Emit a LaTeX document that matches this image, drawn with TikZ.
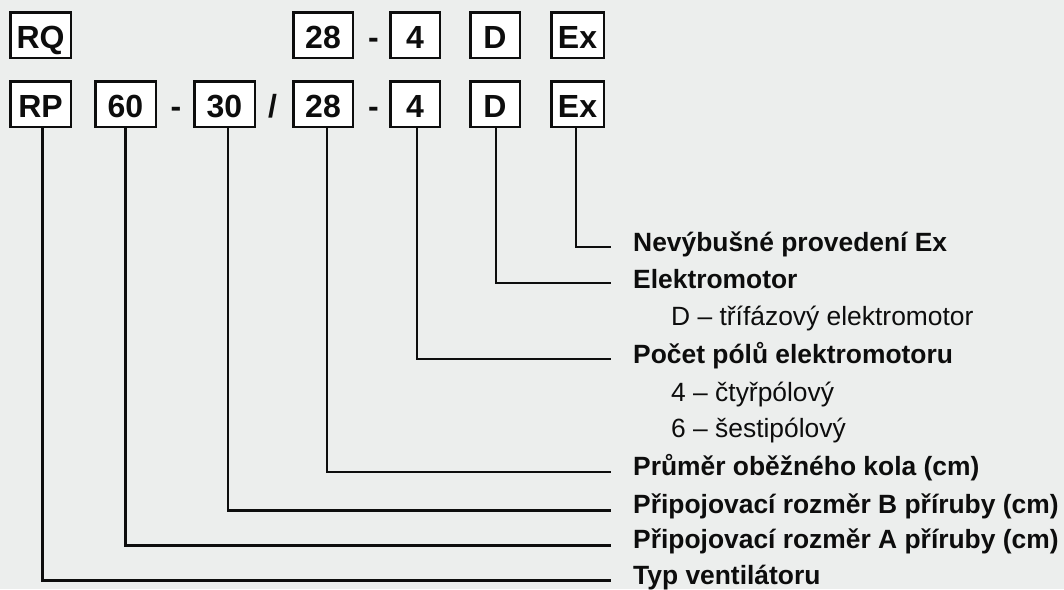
\documentclass[tikz,border=0pt]{standalone}
\usepackage{fontspec}
\setmainfont{Liberation Sans}
\definecolor{bg}{HTML}{ECEEED}
\definecolor{ink}{HTML}{0D0D0D}
\begin{document}
\begin{tikzpicture}[x=1pt,y=-1pt,
  codebox/.style={draw=ink,fill=white,line width=2.5pt,inner sep=0pt,
    minimum height=45.5pt,text height=26pt,text depth=0pt,
    font=\fontsize{32}{36}\selectfont\bfseries,text=ink},
  sep/.style={inner sep=0pt,text height=26pt,text depth=0pt,
    font=\fontsize{32}{36}\selectfont\bfseries,text=ink},
  head/.style={anchor=base west,inner sep=0pt,font=\fontsize{26.4}{30}\selectfont\bfseries,text=ink},
  sub/.style={anchor=base west,inner sep=0pt,font=\fontsize{26.4}{30}\selectfont,text=ink},
  conn/.style={draw=ink,line width=2.7pt,line join=miter}]
\fill[bg] (0,0) rectangle (1064,589);
\useasboundingbox (0,0) rectangle (1064,589);
% row 1
\node[codebox,minimum width=60.5pt] (RQ) at (40.5,35) {RQ};
\node[codebox,minimum width=59.5pt] (a28) at (323,35) {28};
\node[sep] (ad2) at (373.5,35) {-};
\node[codebox,minimum width=49.5pt] (a4) at (415,35) {4};
\node[codebox,minimum width=49.5pt] (aD) at (495,35) {D};
\node[codebox,minimum width=52.5pt] (aEx) at (577.5,35) {Ex};
% row 2
\node[codebox,minimum width=60.5pt] (RP) at (40.5,104) {RP};
\node[codebox,minimum width=60.5pt] (b60) at (125.5,104) {60};
\node[sep] (bd1) at (176,104) {-};
\node[codebox,minimum width=60.5pt] (b30) at (224.5,104) {30};
\node[sep] (bsl) at (272.5,104) {/};
\node[codebox,minimum width=59.5pt] (b28) at (323,104) {28};
\node[sep] (bd2) at (373.5,104) {-};
\node[codebox,minimum width=49.5pt] (b4) at (415,104) {4};
\node[codebox,minimum width=49.5pt] (bD) at (495,104) {D};
\node[codebox,minimum width=52.5pt] (bEx) at (577.5,104) {Ex};
% labels
\node[head] (lEx) at (633,251) {Nevýbušné provedení Ex};
\node[head] (lD) at (633,288) {Elektromotor};
\node[sub] (sD) at (671,325) {D – třífázový elektromotor};
\node[head] (l4) at (633,363) {Počet pólů elektromotoru};
\node[sub] (s4) at (671,401) {4 – čtyřpólový};
\node[sub] (s6) at (671,437) {6 – šestipólový};
\node[head] (l28) at (633,475) {Průměr oběžného kola (cm)};
\node[head] (l30) at (633,513) {Připojovací rozměr B příruby (cm)};
\node[head] (l60) at (633,548) {Připojovací rozměr A příruby (cm)};
\node[head] (lRP) at (633,584) {Typ ventilátoru};
% connector end points
\coordinate (eEx) at (611,247);
\coordinate (eD) at (611,283);
\coordinate (e4) at (611,359);
\coordinate (e28) at (611,472);
\coordinate (e30) at (611,510.5);
\coordinate (e60) at (611,545.5);
\coordinate (eRP) at (611,580.5);
% connectors
\draw[conn] ([xshift=-1.5pt]bEx.south) |- (eEx);
\draw[conn] ([xshift=1pt]bD.south) |- (eD);
\draw[conn] ([xshift=2pt]b4.south) |- (e4);
\draw[conn] ([xshift=4pt]b28.south) |- (e28);
\draw[conn] ([xshift=3.5pt]b30.south) |- (e30);
\draw[conn] ([xshift=0pt]b60.south) |- (e60);
\draw[conn] ([xshift=1.7pt]RP.south) |- (eRP);
\end{tikzpicture}
\end{document}
